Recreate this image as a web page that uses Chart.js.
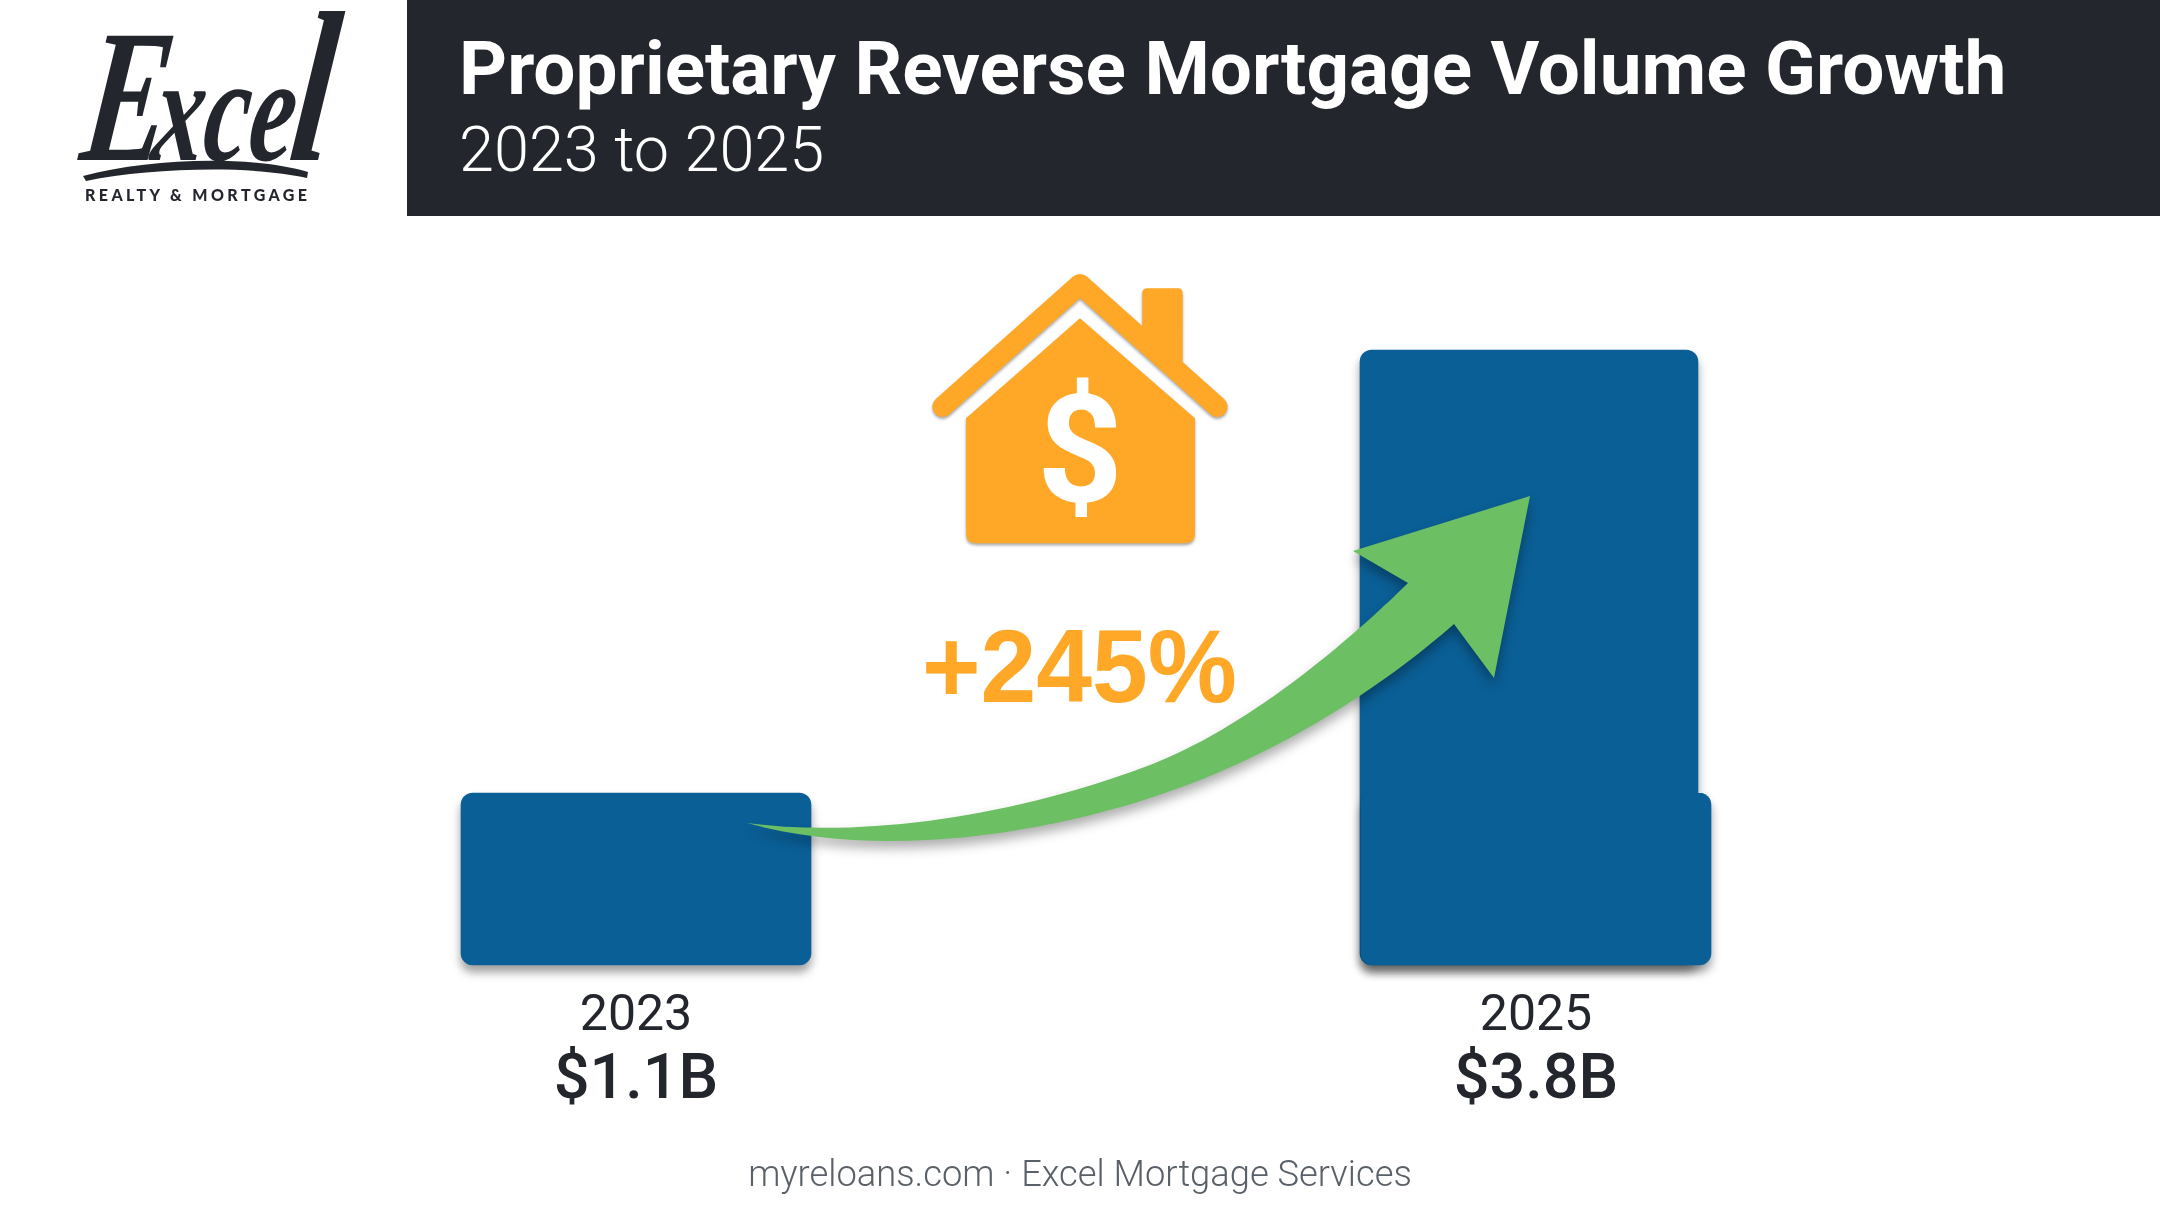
<!DOCTYPE html>
<html>
<head>
<meta charset="utf-8">
<style>
  html, body { margin: 0; padding: 0; background: #fff; }
  #wrap { position: relative; width: 2160px; height: 1206px; overflow: hidden; }
  #chart { position: absolute; left: 0; top: 0; }
  #header { position: absolute; left: 407px; top: 0; width: 1753px; height: 216px; background: #23262d; color: #fff; font-family: Roboto, sans-serif; }
  #title { position: absolute; left: 52px; top: 26px; font-size: 74.7px; font-weight: 700; line-height: 86px; white-space: nowrap; }
  #subtitle { position: absolute; left: 52px; top: 112px; font-size: 63px; font-weight: 300; line-height: 76px; white-space: nowrap; }
  #footer { position: absolute; left: 0; width: 2160px; top: 1151px; text-align: center; font-family: Roboto, sans-serif; font-weight: 300; font-size: 36.3px; line-height: 46px; color: #5a6068; }
  #overlay { position: absolute; left: 0; top: 0; }
</style>
</head>
<body>
<div id="wrap">
  <canvas id="chart" width="2160" height="1206"></canvas>
  <svg id="overlay" width="2160" height="1206" xmlns="http://www.w3.org/2000/svg">
    <!-- logo -->
    <g fill="#23262d">
      <text transform="translate(78,160) skewX(-7) scale(0.68,1)" font-family="Liberation Serif" font-style="italic" font-weight="700" font-size="150"><tspan font-size="190">E</tspan><tspan dx="-22">xce</tspan><tspan font-size="215" dx="-6">l</tspan></text>
      <path d="M83 176 C150 158 250 155 308 172 L307 178 C250 165 150 168 86 181 Z"/>
      <text x="85" y="201" font-family="Lato" font-weight="900" font-size="16" textLength="222">REALTY &amp; MORTGAGE</text>
    </g>
    <!-- house -->
    <g transform="translate(880,250) scale(0.3333)" style="filter: drop-shadow(0 6px 5px rgba(0,0,0,.35))">
      <path d="M188 470 L600 103 L1012 470" fill="none" stroke="#ffa726" stroke-width="62" stroke-linecap="round" stroke-linejoin="round"/>
      <path d="M787 240 V130 Q787 115 802 115 H893 Q908 115 908 130 V350 Z" fill="#ffa726"/>
      <path d="M600 205 L945 505 V850 Q945 880 915 880 H288 Q258 880 258 850 V505 Z" fill="#ffa726"/>
      <text x="600" y="752" text-anchor="middle" font-family="Roboto" font-weight="700" font-size="450" fill="#fff">$</text>
    </g>
    <text x="922" y="702" font-family="Liberation Sans" font-weight="700" font-size="104" fill="#ffa726" textLength="315" lengthAdjust="spacingAndGlyphs">+245%</text>
    <!-- growth arrow -->
    <path style="filter: drop-shadow(0 7px 6px rgba(0,0,0,.32))" fill="#6cbf63"
      d="M747 823 C860 838 1010 818 1150 765 C1240 731 1340 650 1408 583 L1353 551 L1530 496 L1494 678 L1454 624 C1365 702 1255 765 1150 798 C1040 834 880 860 747 823 Z"/>
  </svg>
  <div id="header">
    <div id="title">Proprietary Reverse Mortgage Volume Growth</div>
    <div id="subtitle">2023 to 2025</div>
  </div>
  <div id="footer">myreloans.com · Excel Mortgage Services</div>
</div>
<script src="https://cdn.jsdelivr.net/npm/chart.js@4"></script>
<script>
const YEARS = [2023, 2025];
const VOLUME = [1.1, 3.8];
const VALUE_LABELS = ['$1.1B', '$3.8B'];
// lower block seen under the 2025 bar, same height as 2023
const BASE_BLOCK = [1.1];
const Y_MIN = 0.0517;
const Y_MAX = 4.617;

const BAR_COLOR = '#0a5f96';
const TEXT_COLOR = '#23262d';

// Soft shadow under the bars
const barShadow = {
    id: 'barShadow',
    beforeDatasetDraw(chart, args) {
        const ctx = chart.ctx;
        ctx.save();
        // keep the base block's shadow off the tall bar above it
        if (args.meta.label === 'Base block') {
            ctx.beginPath();
            ctx.rect(0, args.meta.data[0].y, chart.width, chart.height);
            ctx.clip();
        }
        ctx.shadowColor = 'rgba(0,0,0,0.38)';
        ctx.shadowBlur = 10;
        ctx.shadowOffsetY = 7;
    },
    afterDatasetDraw(chart) {
        chart.ctx.restore();
    },
};

// Second line below the year ticks
const valueLabels = {
    id: 'valueLabels',
    afterDraw(chart) {
        const ctx = chart.ctx;
        const x = chart.scales.x;
        ctx.save();
        ctx.font = '500 63px Roboto';
        ctx.fillStyle = TEXT_COLOR;
        ctx.textAlign = 'center';
        ctx.textBaseline = 'alphabetic';
        YEARS.forEach((year, i) => {
            ctx.fillText(VALUE_LABELS[i], x.getPixelForValue(year), 1098);
        });
        ctx.restore();
    },
};

function barDataset(label, x, value, thickness, xAxisID) {
    return {
        label,
        data: [{ x, y: [Y_MIN, value] }],
        xAxisID,
        backgroundColor: BAR_COLOR,
        barThickness: thickness,
        borderRadius: 12,
        borderSkipped: false,
        grouped: false,
        clip: false,
    };
}

new Chart(document.getElementById('chart').getContext('2d'), {
    type: 'bar',
    data: {
        datasets: [
            barDataset('Base block', YEARS[1], BASE_BLOCK[0], 350, 'x'),
            barDataset('Volume 2025', YEARS[1], VOLUME[1], 338, 'xShift'),
            barDataset('Volume 2023', YEARS[0], VOLUME[0], 350, 'x'),
        ],
    },
    options: {
        responsive: false,
        animation: false,
        layout: { padding: { left: 186, right: 174, top: 216, bottom: 0 } },
        plugins: { legend: { display: false }, tooltip: { enabled: false } },
        scales: {
            x: {
                type: 'linear',
                offset: false,
                min: 2022,
                max: 2026,
                grid: { display: false },
                border: { display: false },
                afterBuildTicks(scale) {
                    scale.ticks = YEARS.map(value => ({ value }));
                },
                afterFit(scale) {
                    scale.height = 241;
                },
                ticks: {
                    autoSkip: false,
                    maxRotation: 0,
                    padding: 14,
                    color: TEXT_COLOR,
                    font: { family: 'Roboto', size: 50, weight: '400' },
                    callback: value => String(value),
                },
            },
            // the tall bar sits a little left of the tick in the picture
            xShift: {
                type: 'linear',
                display: false,
                offset: false,
                min: 2022.0156,
                max: 2026.0156,
            },
            y: {
                display: false,
                min: Y_MIN,
                max: Y_MAX,
            },
        },
    },
    plugins: [barShadow, valueLabels],
});
</script>
</body>
</html>
